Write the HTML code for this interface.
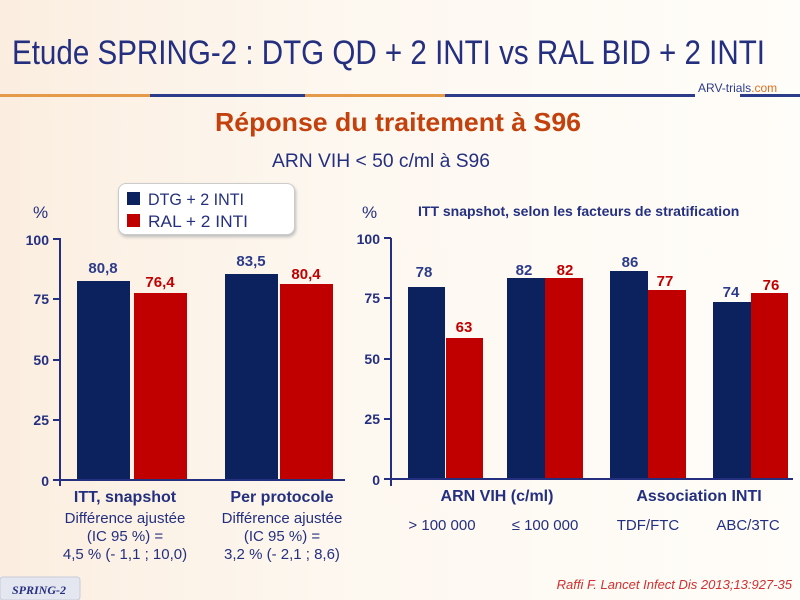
<!DOCTYPE html>
<html><head><meta charset="utf-8"><style>
body{margin:0;width:800px;height:600px;overflow:hidden;background:linear-gradient(90deg,#fbeee0 0%,#fdf7ef 40%,#fffdf9 100%);font-family:"Liberation Sans",sans-serif;position:relative}
.a{position:absolute;white-space:nowrap}
</style></head><body>
<div class="a" style="left:0;top:94px;width:150px;height:3px;background:#e59a4a"></div>
<div class="a" style="left:150px;top:94px;width:155px;height:3px;background:#2d3c8a"></div>
<div class="a" style="left:305px;top:94px;width:140px;height:3px;background:#e59a4a"></div>
<div class="a" style="left:445px;top:94px;width:250px;height:3px;background:#2d3c8a"></div>
<div class="a" style="left:740px;top:94px;width:60px;height:3px;background:#2d3c8a"></div>
<div class="a" style="left:698px;top:81px;font-size:12px;color:#2d3c8a">ARV-trials<span style="color:#e07020">.com</span></div>
<div class="a" style="left:118px;top:183px;width:175px;height:50px;border:1px solid #ccc;border-radius:8px;background:#fff;box-shadow:1px 2px 3px #bbb"></div>
<div class="a" style="left:127px;top:192px;width:13px;height:13px;background:#0c225e"></div>
<div class="a" style="left:127px;top:214px;width:13px;height:13px;background:#c00000"></div>
<div class="a" style="left:33px;top:203px;font-size:17px;color:#24307f">%</div>
<div class="a" style="left:362px;top:203px;font-size:17px;color:#24307f">%</div>
<div class="a" style="left:418px;top:203px;font-size:14px;font-weight:bold;color:#24307f">ITT snapshot, selon les facteurs de stratification</div>
<svg class="a" style="left:0;top:0" width="800" height="600">
<text x="12" y="64" font-size="34" fill="#24307f" textLength="753" lengthAdjust="spacingAndGlyphs">Etude SPRING-2 : DTG QD + 2 INTI vs RAL BID + 2 INTI</text>
<text x="215" y="131" font-size="26" font-weight="bold" fill="#c2410c" textLength="366" lengthAdjust="spacingAndGlyphs">Réponse du traitement à S96</text>
<text x="272" y="167" font-size="19" fill="#24307f" textLength="218" lengthAdjust="spacingAndGlyphs">ARN VIH &lt; 50 c/ml à S96</text>
<text x="148" y="205" font-size="17" fill="#24307f" textLength="96" lengthAdjust="spacingAndGlyphs">DTG + 2 INTI</text>
<text x="148" y="227" font-size="17" fill="#24307f" textLength="100" lengthAdjust="spacingAndGlyphs">RAL + 2 INTI</text>
<g fill="#0c225e"><rect x="77" y="281" width="53" height="199"/><rect x="225" y="274" width="53" height="206"/>
<rect x="408" y="287" width="37" height="192"/><rect x="507" y="278" width="38" height="201"/><rect x="610" y="271" width="38" height="208"/><rect x="713" y="302" width="38" height="177"/></g>
<g fill="#c00000"><rect x="134" y="293" width="53" height="187"/><rect x="280" y="284" width="53" height="196"/>
<rect x="446" y="338" width="37" height="141"/><rect x="545" y="278" width="38" height="201"/><rect x="648" y="290" width="38" height="189"/><rect x="751" y="293" width="37" height="186"/></g>
<g stroke="#24307f" stroke-width="2" fill="none">
<path d="M60 238V486M53 239H60M53 299H60M53 360H60M53 420H60M53 480H345"/>
<path d="M391 238V486M384 238H391M384 298H391M384 359H391M384 419H391M384 479H793"/></g>
<g font-size="14" font-weight="bold" fill="#24307f" text-anchor="end">
<text x="49" y="245">100</text><text x="49" y="304">75</text><text x="49" y="365">50</text><text x="49" y="425">25</text><text x="49" y="486">0</text>
<text x="380" y="244">100</text><text x="380" y="303">75</text><text x="380" y="364">50</text><text x="380" y="424">25</text><text x="380" y="485">0</text></g>
<g font-size="15" font-weight="bold" text-anchor="middle">
<g fill="#2d3c8a"><text x="103" y="273">80,8</text><text x="251" y="266">83,5</text><text x="424" y="277">78</text><text x="524" y="275">82</text><text x="630" y="267">86</text><text x="731" y="297">74</text></g>
<g fill="#c00000"><text x="160" y="287">76,4</text><text x="306" y="279">80,4</text><text x="464" y="332">63</text><text x="565" y="275">82</text><text x="665" y="286">77</text><text x="771" y="290">76</text></g></g>
<g font-size="16" font-weight="bold" fill="#24307f" text-anchor="middle">
<text x="125" y="502">ITT, snapshot</text><text x="282" y="502">Per protocole</text>
<text x="497" y="501">ARN VIH (c/ml)</text><text x="699" y="501">Association INTI</text></g>
<g font-size="15" fill="#24307f" text-anchor="middle">
<text x="125" y="523">Différence ajustée</text><text x="125" y="541">(IC 95 %) =</text><text x="125" y="559">4,5 % (- 1,1 ; 10,0)</text>
<text x="282" y="523">Différence ajustée</text><text x="282" y="541">(IC 95 %) =</text><text x="282" y="559">3,2 % (- 2,1 ; 8,6)</text>
<text x="442" y="530">&gt; 100 000</text><text x="545" y="530">≤ 100 000</text><text x="648" y="530">TDF/FTC</text><text x="748" y="530">ABC/3TC</text></g>
<text x="792" y="589" font-size="13" font-style="italic" fill="#d03030" text-anchor="end">Raffi F. Lancet Infect Dis 2013;13:927-35</text>
<rect x="0" y="577" width="80" height="23" rx="3" fill="#e4e6f0" stroke="#c8cad8"/>
<text x="12" y="594" font-family="Liberation Serif" font-size="12" font-style="italic" font-weight="bold" fill="#24307f">SPRING-2</text>
</svg>
</body></html>
